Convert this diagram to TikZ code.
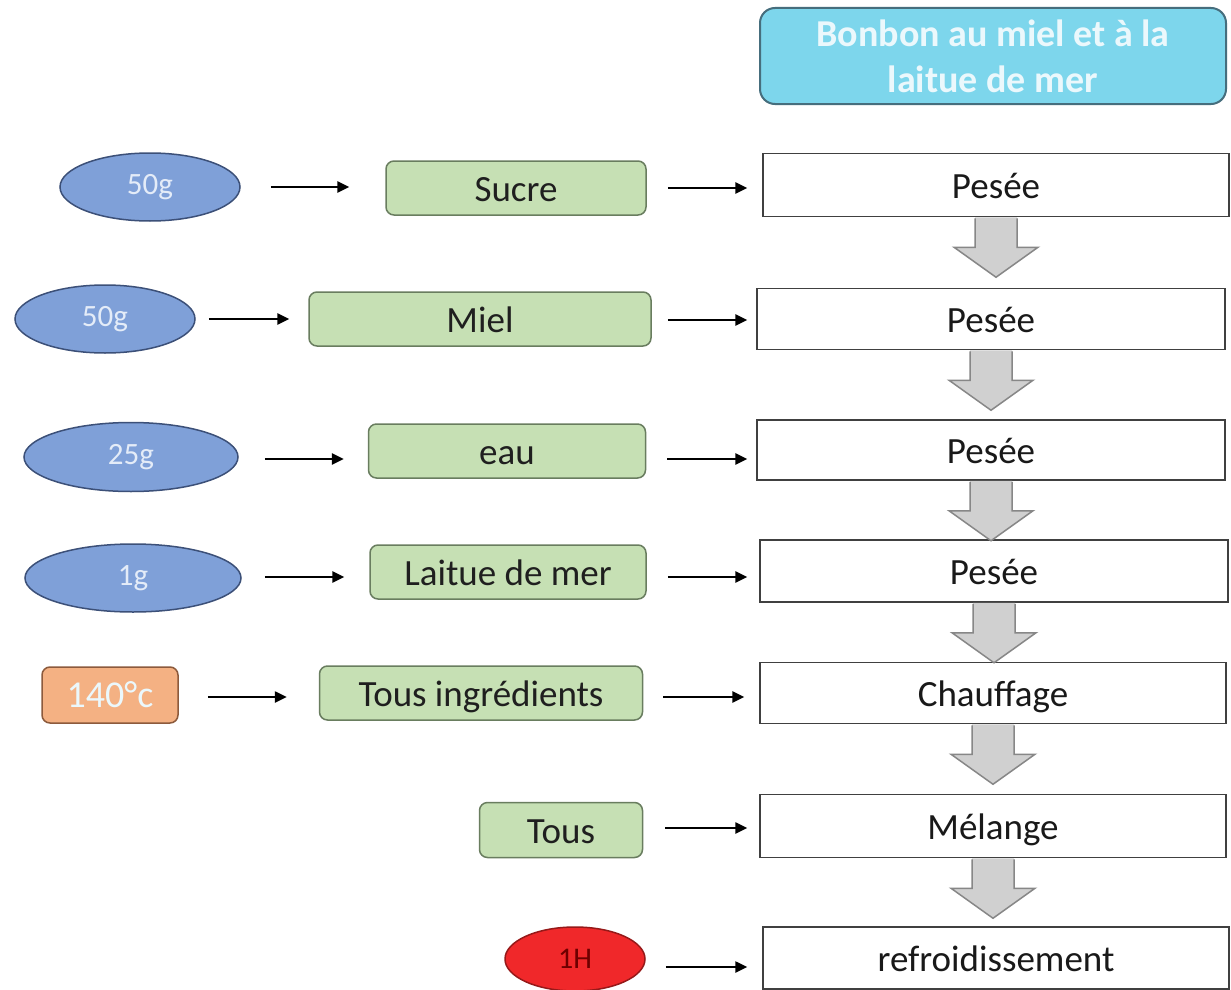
\documentclass[tikz,border=0pt]{standalone}
\usepackage{fontspec}
\setmainfont{Carlito}
\usetikzlibrary{arrows.meta,shapes.geometric,calc}
\definecolor{titlefill}{RGB}{125,214,236}
\definecolor{titleline}{RGB}{70,110,125}
\definecolor{titletext}{RGB}{235,248,252}
\definecolor{greenfill}{RGB}{198,224,180}
\definecolor{greenline}{RGB}{105,125,95}
\definecolor{bluefill}{RGB}{127,160,216}
\definecolor{blueline}{RGB}{60,80,120}
\definecolor{bluetext}{RGB}{228,236,248}
\definecolor{orangefill}{RGB}{244,177,131}
\definecolor{orangeline}{RGB}{140,90,60}
\definecolor{redfill}{RGB}{240,40,42}
\definecolor{redline}{RGB}{150,25,25}
\definecolor{redtext}{RGB}{110,0,0}
\definecolor{arrowfill}{RGB}{208,208,208}
\definecolor{arrowline}{RGB}{135,135,135}
\newcommand\blockdown[1]{%
  \fill[arrowfill] ($(#1.south)+(-21,0)$) -- ++(0,30) -- ++(-21,0) -- ($(#1.south)+(0,60)$) -- ($(#1.south)+(42,30)$) -- ++(-21,0) -- ($(#1.south)+(21,0)$) -- cycle;
  \draw[arrowline, line width=1.5pt, line join=miter] ($(#1.south)+(-21,1)$) -- ($(#1.south)+(-21,30)$) -- ($(#1.south)+(-42,30)$) -- ($(#1.south)+(0,60)$) -- ($(#1.south)+(42,30)$) -- ($(#1.south)+(21,30)$) -- ($(#1.south)+(21,1)$);}
\begin{document}
\begin{tikzpicture}[x=1pt,y=-1pt,
  txt/.style={font=\fontsize{37}{44}\selectfont, text height=28pt, text depth=2pt},
  whitebox/.style={draw=black!75, line width=1.5pt, fill=white, minimum width=466pt, minimum height=62pt, inner sep=0pt, txt, text=black!90},
  greenbox/.style={draw=greenline, fill=greenfill, rounded corners=8pt, line width=1.5pt, minimum height=54pt, inner sep=0pt, txt, text=black!88},
  blueell/.style={ellipse, draw=blueline, fill=bluefill, line width=1.5pt, inner sep=0pt, minimum width=180pt, minimum height=68pt, text=bluetext, font=\fontsize{31}{36}\selectfont},
  arr/.style={line width=2.5pt, -{Triangle[length=12pt,width=11pt]}}]
\useasboundingbox (0,0) rectangle (1231,990);
\fill[white] (0,0) rectangle (1231,990);

% title
\node[draw=titleline, fill=titlefill, rounded corners=15pt, line width=2pt, minimum width=466pt, minimum height=96pt, inner sep=0pt, align=center, text=titletext, font=\fontsize{38}{46}\selectfont\bfseries] (title) at (993,56) {Bonbon au miel et à la\\laitue de mer};

% right column
\node[whitebox, minimum height=63pt] (w1) at (996,185) {Pesée};
\node[whitebox, minimum width=468pt, minimum height=61pt] (w2) at (991,319) {Pesée};
\node[whitebox, minimum width=468pt, minimum height=60pt] (w3) at (991,450) {Pesée};
\node[whitebox, minimum width=468pt] (w4) at (994,571) {Pesée};
\node[whitebox, minimum height=61pt] (w5) at (993,693) {Chauffage};
\node[whitebox, minimum height=63pt] (w6) at (993,826) {Mélange};
\node[whitebox] (w7) at (996,958) {refroidissement};

\blockdown{w1}
\blockdown{w2}
\blockdown{w3}
\blockdown{w4}
\blockdown{w5}
\blockdown{w6}

% green boxes
\node[greenbox, minimum width=260pt] (g1) at (516,188) {Sucre};
\node[greenbox, minimum width=342pt] (g2) at (480,319) {Miel};
\node[greenbox, minimum width=277pt] (g3) at (507,451) {eau};
\node[greenbox, minimum width=276pt] (g4) at (508,572) {Laitue de mer};
\node[greenbox, minimum width=323pt] (g5) at (481,693) {Tous ingrédients};
\node[greenbox, minimum width=163pt, minimum height=55pt] (g6) at (561,830) {Tous};

% left inputs
\node[blueell] (e1) at (150,187) {50g};
\node[blueell] (e2) at (105,319) {50g};
\node[blueell, minimum width=214pt, minimum height=69pt] (e3) at (131,457) {25g};
\node[blueell, minimum width=216pt, minimum height=68pt] (e4) at (133,578) {1g};
\node[draw=orangeline, fill=orangefill, rounded corners=8pt, line width=1.5pt, minimum width=136pt, minimum height=56pt, inner sep=0pt, text=titletext, font=\fontsize{38}{44}\selectfont] (t) at (110,695) {140°c};
\node[ellipse, draw=redline, fill=redfill, line width=1.5pt, minimum width=140pt, minimum height=64pt, inner sep=0pt, text=redtext, font=\fontsize{30}{34}\selectfont] (r) at (575,959) {1H};

% arrows left -> green
\draw[arr, shorten <=30pt, shorten >=36pt] (e1.east) -- (e1.east -| g1.west);
\draw[arr, shorten <=13pt, shorten >=19pt] (e2.east) -- (e2.east -| g2.west);
\draw[arr, shorten <=26pt, shorten >=24pt] ([yshift=-2pt]e3.east) -- ([yshift=-2pt]e3.east -| g3.west);
\draw[arr, shorten <=23pt, shorten >=25pt] ([yshift=1pt]e4.east) -- ([yshift=1pt]e4.east -| g4.west);
\draw[arr, shorten <=29pt, shorten >=32pt] ([yshift=-2pt]t.east) -- ([yshift=-2pt]t.east -| g5.west);

% arrows green -> white
\draw[arr, shorten <=21pt, shorten >=15pt] (g1.east) -- (g1.east -| w1.west);
\draw[arr, shorten <=16pt, shorten >=9pt] ([yshift=-1pt]g2.east) -- ([yshift=-1pt]g2.east -| w2.west);
\draw[arr, shorten <=21pt, shorten >=9pt] ([yshift=-8pt]g3.east) -- ([yshift=-8pt]g3.east -| w3.west);
\draw[arr, shorten <=21pt, shorten >=12pt] ([yshift=-5pt]g4.east) -- ([yshift=-5pt]g4.east -| w4.west);
\draw[arr, shorten <=20pt, shorten >=15pt] ([yshift=-4pt]g5.east) -- ([yshift=-4pt]g5.east -| w5.west);
\draw[arr, shorten <=22pt, shorten >=12pt] ([yshift=2pt]g6.east) -- ([yshift=2pt]g6.east -| w6.west);
\draw[arr, shorten <=20pt, shorten >=15pt] ([yshift=-8pt]r.east) -- ([yshift=-8pt]r.east -| w7.west);
\end{tikzpicture}
\end{document}
